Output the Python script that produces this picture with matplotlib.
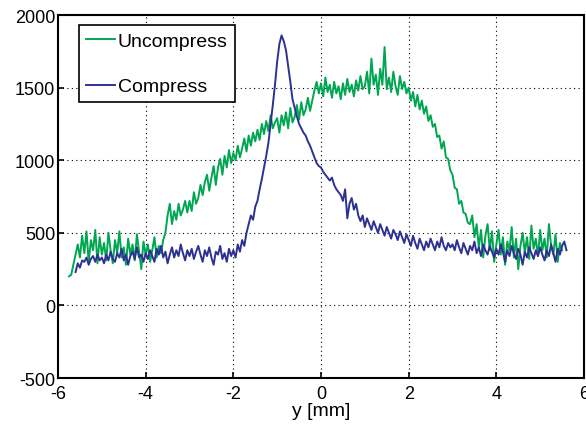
import numpy as np
import matplotlib.pyplot as plt

plt.rcParams['font.family'] = ['Liberation Sans', 'DejaVu Sans']
plt.rcParams['axes.unicode_minus'] = False

# uncompressed profile, sampled every 0.05 mm from -5.75 mm
x0_unc = -5.75
unc = [
    200, 210, 280, 350, 420, 330, 480, 360, 510, 300, 450, 380, 520, 290, 470,
    350, 430, 310, 500, 380, 290, 450, 360, 510, 330, 400, 280, 460, 350, 420, 310, 490, 370, 250, 440,
    350, 420, 300, 380, 470, 330, 410, 360, 450, 500, 620, 700, 560, 650, 590, 700, 620, 660, 720, 640,
    720, 650, 780, 700, 740, 830, 760, 850, 900, 790, 880, 960, 830, 950, 1010, 900, 1030, 950, 1070, 980,
    1050, 1000, 1100, 1020, 1080, 1150, 1060, 1170, 1100, 1190, 1130, 1210, 1140, 1250, 1180, 1270, 1200, 1310, 1220, 1260,
    1290, 1190, 1310, 1240, 1330, 1220, 1360, 1260, 1300, 1380, 1280, 1400, 1310, 1350, 1430, 1340, 1410, 1480, 1540, 1460,
    1530, 1440, 1570, 1470, 1520, 1430, 1540, 1460, 1510, 1420, 1530, 1450, 1560, 1470, 1520, 1440, 1550, 1480, 1580, 1490,
    1510, 1610, 1460, 1700, 1520, 1590, 1450, 1630, 1520, 1780, 1490, 1570, 1470, 1610, 1510, 1450, 1580, 1490, 1540, 1460,
    1500, 1410, 1470, 1370, 1450, 1350, 1410, 1320, 1370, 1270, 1310, 1230, 1250, 1160, 1170, 1080, 1130, 1020, 1010, 930,
    900, 810, 800, 700, 720, 640, 630, 570, 560, 620, 470, 560, 400, 520, 330, 480, 560, 380, 510, 300,
    420, 520, 350, 470, 280, 440, 380, 540, 330, 460, 250, 410, 500, 360, 470, 320, 550, 390, 460, 340,
    520, 380, 460, 330, 560, 410, 350, 490, 300, 430, 380,
]

# compressed profile, sampled every 0.05 mm from -5.60 mm
x0_cmp = -5.60
cmp_ = [
    230, 290, 260, 310, 300, 330, 280, 320, 340, 300, 350, 310,
    330, 290, 350, 310, 370, 320, 300, 360, 330, 390, 310, 350, 280, 340, 370, 320, 400, 330, 350, 300,
    360, 320, 380, 340, 300, 390, 350, 410, 330, 370, 290, 350, 400, 330, 380, 340, 420, 360, 310, 380,
    340, 390, 320, 370, 410, 350, 300, 380, 340, 400, 330, 280, 370, 350, 410, 320, 360, 300, 390, 340,
    380, 330, 420, 370, 450, 410, 500, 560, 620, 590, 680, 720, 800, 870, 950, 1030, 1120, 1250, 1380, 1520,
    1680, 1800, 1860, 1820, 1760, 1650, 1540, 1420, 1360, 1300, 1250, 1220, 1190, 1170, 1130, 1100, 1060, 1020, 980, 960,
    950, 920, 900, 880, 860, 880, 830, 800, 780, 760, 720, 800, 600, 700, 740, 660, 700, 620, 580, 620,
    540, 600, 560, 520, 580, 540, 500, 560, 520, 480, 540, 500, 460, 520, 490, 450, 510, 470, 430, 490,
    450, 410, 480, 430, 390, 460, 420, 380, 440, 400, 460, 420, 380, 440, 400, 470, 410, 380, 430, 400,
    420, 380, 450, 400, 360, 430, 390, 350, 410, 380, 440, 360, 400, 340, 420, 380, 350, 410, 370, 330,
    390, 350, 420, 370, 300, 380, 340, 410, 360, 320, 390, 350, 280, 370, 330, 400, 360, 320, 380, 340,
    400, 350, 310, 380, 340, 420, 360, 300, 390, 350, 410, 440, 380,
]
step = 0.05

xticks = [-6, -4, -2, 0, 2, 4, 6]
yticks = [-500, 0, 500, 1000, 1500, 2000]

x_unc = x0_unc + step * np.arange(len(unc))
x_cmp = x0_cmp + step * np.arange(len(cmp_))

fig = plt.figure(figsize=(5.86, 4.27), dpi=100)
ax = fig.add_axes([0.099, 0.1124, 0.8976, 0.850])

ax.plot(x_unc, unc, color='#00a651', lw=1.4, label='Uncompress')
ax.plot(x_cmp, cmp_, color='#2e3192', lw=1.4, label='Compress')

ax.set_xlim(-6, 6)
ax.set_ylim(-500, 2000)
ax.set_xticks(xticks)
ax.set_yticks(yticks)
ax.grid(True, color='black', linestyle=(0, (1, 3)), linewidth=0.8)
ax.tick_params(direction='in', labelsize=13, length=4, width=1.2)
ax.tick_params(axis='y', pad=2)
ax.tick_params(axis='x', pad=5)
for s in ax.spines.values():
    s.set_linewidth(1.5)
ax.set_xlabel('y [mm]', fontsize=14, labelpad=0)

leg = ax.legend(loc='upper left', bbox_to_anchor=(0.04, 0.972), fontsize=14,
                labelspacing=1.45, handlelength=1.5, handletextpad=0.15,
                borderpad=0.35, fancybox=False, framealpha=1, borderaxespad=0)
leg.get_frame().set_edgecolor('black')
leg.get_frame().set_linewidth(1.2)

fig.savefig('out.png', dpi=100)
